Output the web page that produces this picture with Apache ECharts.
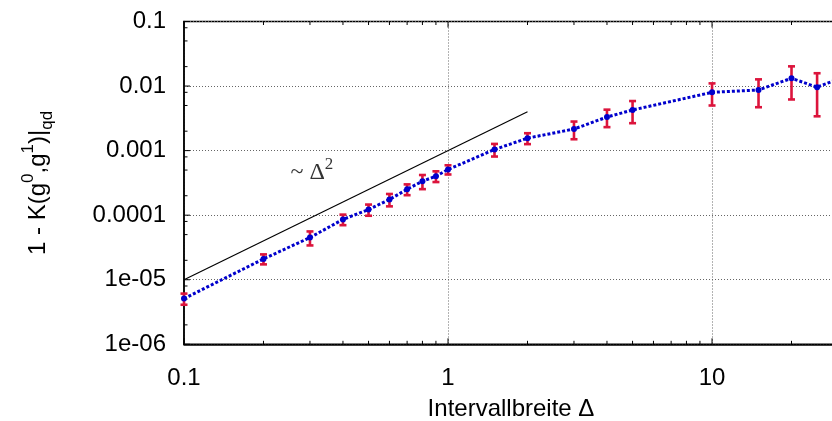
<!DOCTYPE html>
<html>
<head>
<meta charset="utf-8">
<script src="https://cdn.jsdelivr.net/npm/echarts@6/dist/echarts.min.js"></script>
<style>
html,body{margin:0;padding:0;background:#fff;}
#chart{width:832px;height:421px;}
</style>
</head>
<body>
<div id="chart"></div>
<script>
// ---- data ----
const xVals = [0.1, 0.2, 0.3, 0.4, 0.5, 0.6, 0.7, 0.8, 0.9, 1, 1.5, 2, 3, 4, 5, 10, 15, 20, 25, 30];
const yVals = [5.1e-6, 2.1e-5, 4.5e-5, 8.6e-5, 1.22e-4, 1.75e-4, 2.52e-4, 3.36e-4, 4.02e-4, 5.1e-4,
               1.04e-3, 1.56e-3, 2.16e-3, 3.31e-3, 4.26e-3, 8.0e-3, 8.7e-3, 1.32e-2, 9.6e-3, 1.28e-2];
const yErr  = [1.0e-6, 3.7e-6, 1.1e-5, 1.6e-5, 2.4e-5, 3.8e-5, 4.8e-5, 8.3e-5, 7.6e-5, 8.3e-5,
               2.3e-4, 3.0e-4, 6.6e-4, 1.0e-3, 1.6e-3, 3.0e-3, 4.0e-3, 7.0e-3, 6.2e-3, 6.0e-3];
const refX = [0.1, 2];
const refY = [1e-5, 4e-3];
const xTickValues = [0.1, 1, 10];
const xTickLabels = ['0.1', '1', '10'];
const yTickValues = [1e-6, 1e-5, 1e-4, 1e-3, 1e-2, 1e-1];
const yTickLabels = ['1e-06', '1e-05', '0.0001', '0.001', '0.01', '0.1'];
const xMinorMult = [2, 3, 4, 5, 6, 7, 8, 9];
const xDecades = [0.1, 1, 10];
const yMinorMult = [2, 5, 8];
const yDecades = [1e-6, 1e-5, 1e-4, 1e-3, 1e-2];
const annotationAt = [0.305, 4.6e-4];

const X_MIN = 0.1, X_MAX = 30, Y_MIN = 1e-6, Y_MAX = 0.1;

function labelFor(values, labels, v) {
  for (let i = 0; i < values.length; i++) {
    if (Math.abs(Math.log10(v) - Math.log10(values[i])) < 1e-6) return labels[i];
  }
  return '';
}

// tick lists
const xMinor = [];
xDecades.forEach(d => xMinorMult.forEach(m => { const v = d * m; if (v < X_MAX) xMinor.push(v); }));
const yMinor = [];
yDecades.forEach(d => yMinorMult.forEach(m => yMinor.push(d * m)));

const tickData = [];
xTickValues.forEach(v => tickData.push([v, 'x', 6]));
xMinor.forEach(v => tickData.push([v, 'x', 3.5]));
yTickValues.forEach(v => tickData.push([v, 'y', 6]));
yMinor.forEach(v => tickData.push([v, 'y', 3.5]));

const chart = echarts.init(document.getElementById('chart'), null, {renderer: 'canvas'});

const option = {
  backgroundColor: '#fff',
  animation: false,
  grid: {
    left: 184, top: 21.5, right: -6, bottom: 76.7,
    containLabel: false, outerBoundsMode: 'none',
    show: true, borderColor: '#000', borderWidth: 1.5, backgroundColor: 'transparent'
  },
  xAxis: {
    type: 'log', logBase: 10, min: X_MIN, max: X_MAX,
    name: 'Intervallbreite Δ', nameLocation: 'middle', nameGap: 53,
    nameTextStyle: {fontFamily: 'Liberation Sans', fontSize: 24, color: '#000'},
    axisLine: {show: true, onZero: false, lineStyle: {color: '#000', width: 1.5}},
    axisTick: {show: false},
    axisLabel: {
      margin: 22, fontFamily: 'Liberation Sans', fontSize: 24, color: '#000',
      showMaxLabel: false,
      formatter: v => labelFor(xTickValues, xTickLabels, v)
    },
    splitLine: {show: true, lineStyle: {color: '#666', width: 1, type: [1, 2]}},
    minorTick: {show: false}, minorSplitLine: {show: false}
  },
  yAxis: {
    type: 'log', logBase: 10, min: Y_MIN, max: Y_MAX,
    name: '{m|1 - K(g}{sup|0}{m|,g}{sup|1}{m|)|}{sub|qd}',
    nameLocation: 'middle', nameGap: 128, nameRotate: 90,
    nameTextStyle: {
      fontFamily: 'Liberation Sans', fontSize: 24, color: '#000',
      rich: {
        m: {fontFamily: 'Liberation Sans', fontSize: 24, color: '#000', lineHeight: 36},
        sup: {fontFamily: 'Liberation Sans', fontSize: 17, color: '#000', verticalAlign: 'top', lineHeight: 20},
        sub: {fontFamily: 'Liberation Sans', fontSize: 17, color: '#000', verticalAlign: 'bottom', lineHeight: 20}
      }
    },
    axisLine: {show: true, onZero: false, lineStyle: {color: '#000', width: 1.5}},
    axisTick: {show: false},
    axisLabel: {
      margin: 18, fontFamily: 'Liberation Sans', fontSize: 24, color: '#000',
      formatter: v => labelFor(yTickValues, yTickLabels, v)
    },
    splitLine: {show: true, lineStyle: {color: '#666', width: 1, type: [1, 2]}},
    minorTick: {show: false}, minorSplitLine: {show: false}
  },
  series: [
    {
      // axis ticks (inside, mirrored on top)
      type: 'custom', z: 1, silent: true, clip: false,
      data: tickData,
      renderItem: function (params, api) {
        const v = api.value(0);
        const kind = tickData[params.dataIndex][1];
        const len = tickData[params.dataIndex][2];
        const style = {stroke: '#000', lineWidth: 1};
        if (kind === 'x') {
          const b = api.coord([v, Y_MIN]);
          const t = api.coord([v, Y_MAX]);
          return {type: 'group', children: [
            {type: 'line', shape: {x1: b[0], y1: b[1], x2: b[0], y2: b[1] - len}, style: style},
            {type: 'line', shape: {x1: t[0], y1: t[1], x2: t[0], y2: t[1] + len}, style: style}
          ]};
        } else {
          const l = api.coord([X_MIN, v]);
          return {type: 'line', shape: {x1: l[0], y1: l[1], x2: l[0] + len, y2: l[1]}, style: style};
        }
      },
      encode: {x: 0}
    },
    {
      name: 'ref', type: 'line', z: 2, silent: true,
      data: refX.map((x, i) => [x, refY[i]]),
      symbol: 'none',
      lineStyle: {color: '#000', width: 1.2}
    },
    {
      // error bars
      type: 'custom', z: 3, silent: true,
      data: xVals.map((x, i) => [x, yVals[i], yVals[i] - yErr[i], yVals[i] + yErr[i]]),
      encode: {x: 0, y: [1, 2, 3]},
      renderItem: function (params, api) {
        const x = api.value(0);
        const lo = api.coord([x, api.value(2)]);
        const hi = api.coord([x, api.value(3)]);
        const w = 3.5;
        const style = {stroke: '#dc143c', lineWidth: 2.6};
        return {type: 'group', children: [
          {type: 'line', shape: {x1: lo[0], y1: lo[1], x2: hi[0], y2: hi[1]}, style: style},
          {type: 'line', shape: {x1: lo[0] - w, y1: lo[1], x2: lo[0] + w, y2: lo[1]}, style: style},
          {type: 'line', shape: {x1: hi[0] - w, y1: hi[1], x2: hi[0] + w, y2: hi[1]}, style: style}
        ]};
      }
    },
    {
      name: 'data', type: 'line', z: 4, silent: true,
      data: xVals.map((x, i) => [x, yVals[i]]),
      symbol: 'circle', symbolSize: 6, showAllSymbol: true,
      itemStyle: {color: '#0000cc'},
      lineStyle: {color: '#0000cc', width: 3, type: [3, 2]}
    },
    {
      // annotation "~ Δ²"
      type: 'scatter', z: 5, silent: true,
      data: [annotationAt],
      symbolSize: 0,
      label: {
        show: true, position: 'inside',
        formatter: '{a|~ Δ}{s|2}',
        rich: {
          a: {fontFamily: 'Liberation Serif', fontSize: 24, color: '#000', lineHeight: 32},
          s: {fontFamily: 'Liberation Serif', fontSize: 17, color: '#000', verticalAlign: 'top', lineHeight: 18}
        }
      }
    }
  ]
};
chart.setOption(option);
</script>
</body>
</html>
